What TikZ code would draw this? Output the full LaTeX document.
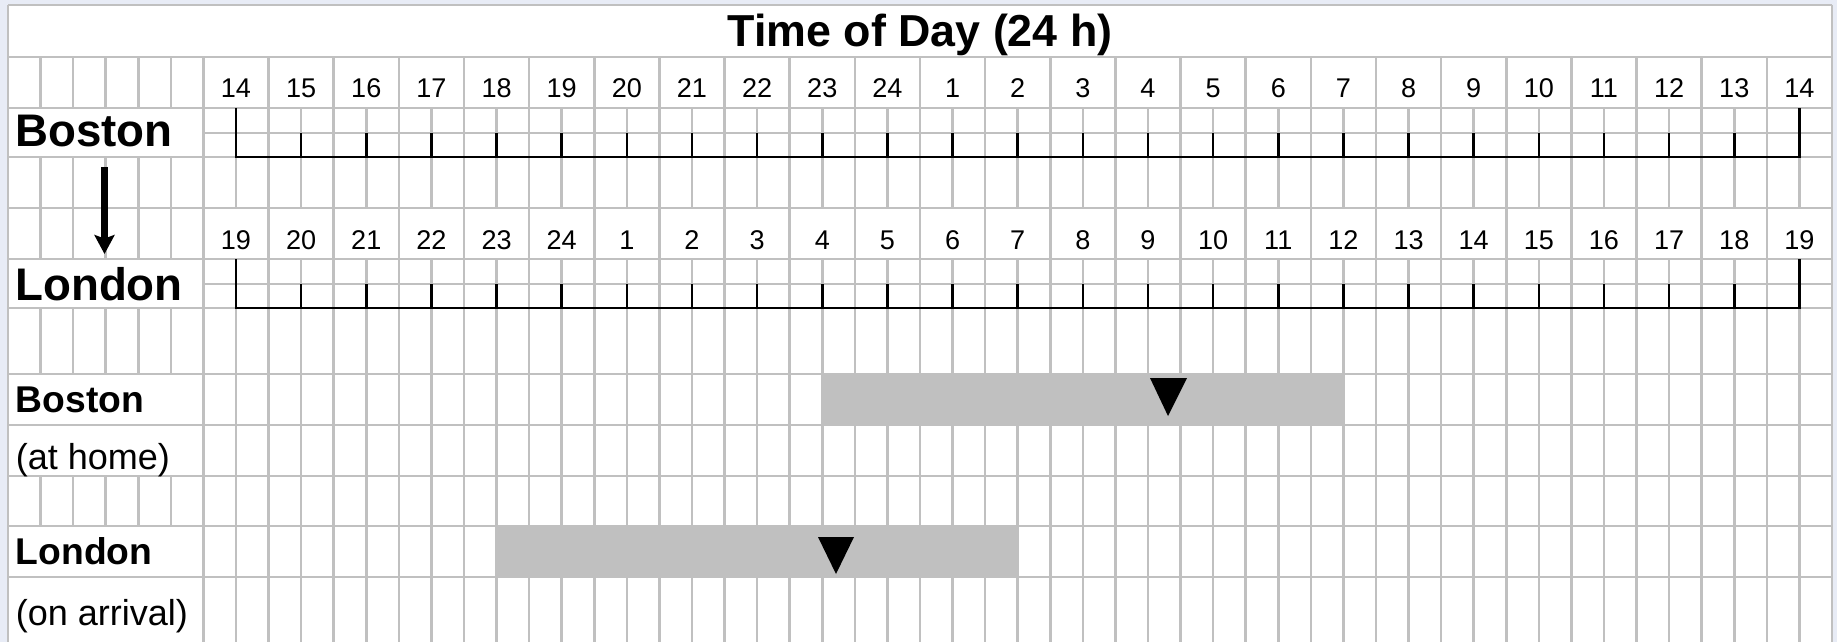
\documentclass[tikz,border=0pt]{standalone}
\usepackage{fontspec}
\setmainfont{Liberation Sans}
\usetikzlibrary{arrows.meta}

\definecolor{gridgray}{RGB}{192,192,192}
\definecolor{pageblue}{RGB}{232,236,246}

\tikzset{
  grid/.style={gridgray, line width=1.4pt},
  axis/.style={black, line width=1.5pt},
  hour/.style={font=\fontsize{15.4}{18}\selectfont, anchor=base, inner sep=0pt},
  city/.style={font=\bfseries\fontsize{26}{31}\selectfont, anchor=base west, inner sep=0pt},
  rowname/.style={font=\bfseries\fontsize{21.2}{25}\selectfont, anchor=base west, inner sep=0pt},
  rownote/.style={font=\fontsize{20.5}{25}\selectfont, anchor=base west, inner sep=0pt}
}

\begin{document}
\begin{tikzpicture}[x=0.02cm, y=-0.02cm]
  \useasboundingbox (0,0) rectangle (1837,642);
  \fill[pageblue] (0,0) rectangle (1837,642);
  \fill[white] (8,5) rectangle (1832,642);

  % spreadsheet grid
  \foreach \y in {5,57,108,157,208,259,308,374,425,476,526,577}
    \draw[grid] (8,\y) -- (1832,\y);
  \foreach \y in {133,284}
    \draw[grid] (203.4,\y) -- (1832,\y);
  \draw[grid] (8,5) -- (8,642);
  \draw[grid] (1832,5) -- (1832,642);
  \foreach \i in {1,...,5}
    \foreach \a/\b in {57/108,157/259,308/374,476/526}
      \draw[grid] ({8+32.571*\i},\a) -- ({8+32.571*\i},\b);
  % even columns run through, odd ones stop at the hour rows
  \foreach \i in {6,8,...,54}
    \draw[grid] ({8+32.571*\i},57) -- ({8+32.571*\i},642);
  \foreach \i in {7,9,...,55}
    \foreach \a/\b in {108/208,259/642}
      \draw[grid] ({8+32.571*\i},\a) -- ({8+32.571*\i},\b);

  % sleep bars
  \fill[gridgray] ({8+32.571*25},373) rectangle ({8+32.571*41},426);
  \fill[gridgray] ({8+32.571*15},526) rectangle ({8+32.571*31},577);
  \fill[black] (1150,378) -- (1187,378) -- (1168,416) -- cycle;
  \fill[black] (818,537) -- (854,537) -- (836,574) -- cycle;

  % Boston clock
  \draw[axis] (236,108) -- (236,157) -- (1799.4,157) -- (1799.4,108);
  \foreach \k [evaluate=\k as \h using {int(mod(13+\k,24)+1)}] in {0,...,24} {
    \node[hour] (b\k) at ({236+65.142*\k},98) {\h};
    \draw[axis] ({236+65.142*\k},133) -- ({236+65.142*\k},157);
  }

  % London clock
  \draw[axis] (236,259) -- (236,308) -- (1799.4,308) -- (1799.4,259);
  \foreach \k [evaluate=\k as \h using {int(mod(18+\k,24)+1)}] in {0,...,24} {
    \node[hour] (l\k) at ({236+65.142*\k},250) {\h};
    \draw[axis] ({236+65.142*\k},284) -- ({236+65.142*\k},308);
  }

  % labels
  \node[font=\bfseries\fontsize{25.5}{30}\selectfont, anchor=base, inner sep=0pt] (title) at (920,47) {Time of Day (24 h)};
  \node[city] (boston) at (15,147) {Boston};
  \node[city] (london) at (15,300) {London};
  \node[rowname] (bhome) at (15.5,412) {Boston};
  \node[rownote] (bnote) at (15.5,469) {(at home)};
  \node[rowname] (larr) at (15.5,564) {London};
  \node[rownote] (lnote) at (15.5,625) {(on arrival)};

  \coordinate (arrtop) at (104.5,167);
  \coordinate (arrtip) at (104.5,254);
  \draw[line width=4pt, -{Stealth[length=10.8pt, width=11.4pt, inset=2pt]}] (arrtop) -- (arrtip);
\end{tikzpicture}
\end{document}
